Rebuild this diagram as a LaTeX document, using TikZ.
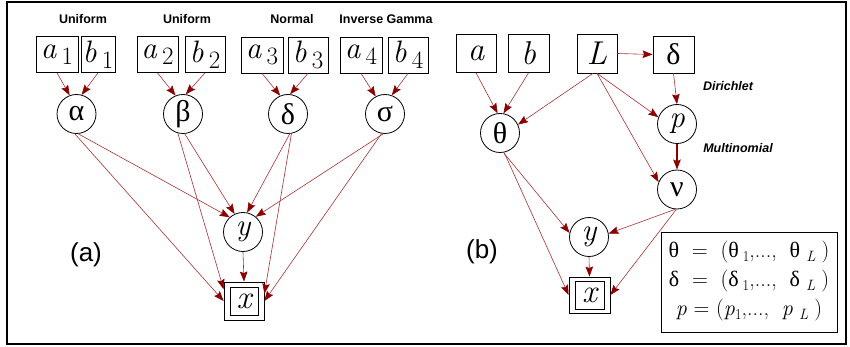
\documentclass[tikz,border=0pt]{standalone}
\usepackage{fontspec}
\newfontfamily\grk{Liberation Serif}
\newfontfamily\hel{Liberation Sans}
\usetikzlibrary{arrows.meta}
\definecolor{arr}{RGB}{139,0,0}
\definecolor{lin}{RGB}{165,50,50}
\newcommand{\fsz}[1]{\fontsize{#1}{#1}\selectfont}
\newcommand{\vsub}[2]{{\itshape #1}\,\raisebox{-6pt}{\fsz{25}\upshape #2}}
\newcommand{\lsub}[1]{\raisebox{-4pt}{\fsz{15}#1}}
\tikzset{
  vbox/.style={draw, line width=0.8pt, minimum height=36pt, inner sep=0pt, font=\rmfamily\fsz{31}},
  vcirc/.style={draw, circle, minimum size=39pt, inner sep=0pt, line width=0.8pt, font=\rmfamily\fsz{31}},
  gk/.style={font=\grk\fsz{30}},
  ed/.style={draw=lin, line width=0.6pt, -{Stealth[length=10pt,width=7.5pt,inset=1.5pt,color=arr]}},
  edk/.style={draw=arr, line width=1.2pt, -{Stealth[length=10pt,width=7.5pt,inset=1.5pt,color=arr]}},
  dlbl/.style={font=\hel\bfseries\fsz{12.5}},
  dlbli/.style={font=\hel\bfseries\itshape\fsz{12.5}},
  panel/.style={font=\hel\fsz{26}},
  leg/.style={font=\rmfamily\fsz{22}, inner sep=0pt}
}
\begin{document}
\begin{tikzpicture}[x=1pt,y=-1pt]
\useasboundingbox (0,0) rectangle (850,347);
\draw[line width=2.5pt] (7,2) rectangle (846,344);

% ---------- (a) ----------
\node[dlbl] (u1) at (83,19) {Uniform};
\node[dlbl] (u2) at (187,19) {Uniform};
\node[dlbl] (nm) at (292,19) {Normal};
\node[dlbl] (ig) at (386,19) {Inverse Gamma};

\node[vbox, minimum width=42pt] (a1) at (57,54.5) {\vsub{a}{1}};
\node[vbox, minimum width=34pt] (b1) at (98,54.5) {\vsub{b}{1}};
\node[vbox, minimum width=41pt] (a2) at (157.5,54.5) {\vsub{a}{2}};
\node[vbox, minimum width=40pt] (b2) at (205,54.5) {\vsub{b}{2}};
\node[vbox, minimum width=42pt] (a3) at (262,55) {\vsub{a}{3}};
\node[vbox, minimum width=40pt] (b3) at (308,55) {\vsub{b}{3}};
\node[vbox, minimum width=42pt] (a4) at (361,55) {\vsub{a}{4}};
\node[vbox, minimum width=40pt] (b4) at (408,55) {\vsub{b}{4}};

\node[vcirc, gk] (al) at (76.5,114) {α};
\node[vcirc, gk] (be) at (183,114) {β};
\node[vcirc, gk] (de) at (288,114) {δ};
\node[vcirc, gk] (si) at (385,114) {σ};

\node[vcirc] (ya) at (243,232) {\itshape y};
\node[draw, line width=0.8pt, minimum width=28pt, minimum height=28pt, inner sep=0pt, font=\rmfamily\itshape\fsz{33}] (xai) at (244,301) {x};
\node[draw, line width=0.8pt, minimum width=40pt, minimum height=38pt, inner sep=0pt] (xa) at (244,301) {};

\node[panel] (pa) at (86,255) {(a)};

\draw[ed] (a1.south) -- (al.110);
\draw[ed] (b1.south) -- (al.75);
\draw[ed] (a2.south) -- (be.112);
\draw[ed] (b2.south) -- (be.82);
\draw[ed] (a3.south) -- (de.113);
\draw[ed] (b3.south) -- (de.84);
\draw[ed] (a4.south) -- (si.118);
\draw[ed] (b4.south) -- (si.70);

\draw[ed] (al.-85) -- (ya.132);
\draw[ed] (al.-95) -- (xa.west);
\draw[ed] (be.-105) -- (xa.150);
\draw[ed] (be.-85) -- (ya.115);
\draw[ed] (de.-85) -- (ya.78);
\draw[ed] (de.-80) -- (xa.20);
\draw[ed] (si.-95) -- (ya.50);
\draw[ed] (si.-100) -- (xa.east);
\draw[ed] (ya.south) -- (xa.north);

% ---------- (b) ----------
\node[vbox, minimum width=40pt, minimum height=38pt, font=\rmfamily\itshape\fsz{33}] (ab) at (476,53.5) {a};
\node[vbox, minimum width=41pt, minimum height=38pt, font=\rmfamily\itshape\fsz{33}] (bb) at (528.5,53.5) {b};
\node[vbox, minimum width=40pt, minimum height=39pt, font=\rmfamily\itshape\fsz{33}] (Lb) at (597,53.5) {L};
\node[vbox, gk, minimum width=41pt, minimum height=37pt] (db) at (673.5,54.5) {δ};

\node[vcirc, gk] (th) at (500,133) {θ};
\node[vcirc] (pb) at (677,124) {\itshape p};
\node[vcirc, gk] (nu) at (677,189.5) {ν};
\node[vcirc] (yb) at (589,237) {\itshape y};
\node[draw, line width=0.8pt, minimum width=29pt, minimum height=28pt, inner sep=0pt, font=\rmfamily\itshape\fsz{33}] (xbi) at (589.5,295) {x};
\node[draw, line width=0.8pt, minimum width=41pt, minimum height=36pt, inner sep=0pt] (xb) at (589.5,295) {};

\node[dlbli] (dir) at (728,86) {Dirichlet};
\node[dlbli] (mul) at (738,148) {Multinomial};
\node[panel] (pbl) at (482,252) {(b)};

\draw[ed] (ab.south) -- (th.97);
\draw[ed] (bb.south) -- (th.80);
\draw[ed] ([xshift=-4pt]Lb.south) -- (th.25);
\draw[ed] (Lb.south) -- (pb.160);
\draw[ed] (Lb.south) -- (nu.158);
\draw[ed] (Lb.east) -- (db.west);
\draw[ed] (db.south) -- (pb.north);
\draw[edk] (pb.south) -- (nu.north);
\draw[ed] (th.-80) -- (yb.168);
\draw[ed] (th.-78) -- (xb.west);
\draw[ed] (nu.-95) -- (yb.10);
\draw[ed] (nu.-92) -- (xb.east);
\draw[ed] (yb.south) -- (xb.north);

% legend
\node[draw, line width=0.8pt, minimum width=176pt, minimum height=100pt, inner sep=0pt] (lg) at (749,282) {};
\node[leg] (l1) at (749,252) {{\grk θ}\; = \;({\grk θ}\,\lsub{1},..., \;{\grk θ}\;\lsub{\itshape L}\;)};
\node[leg] (l2) at (749,281) {{\grk δ}\; = \;({\grk δ}\,\lsub{1},..., \;{\grk δ}\;\lsub{\itshape L}\;)};
\node[leg] (l3) at (749,310) {{\itshape p} = ({\itshape p}\lsub{1},..., \;{\itshape p}\;\lsub{\itshape L}\;)};
\end{tikzpicture}
\end{document}
